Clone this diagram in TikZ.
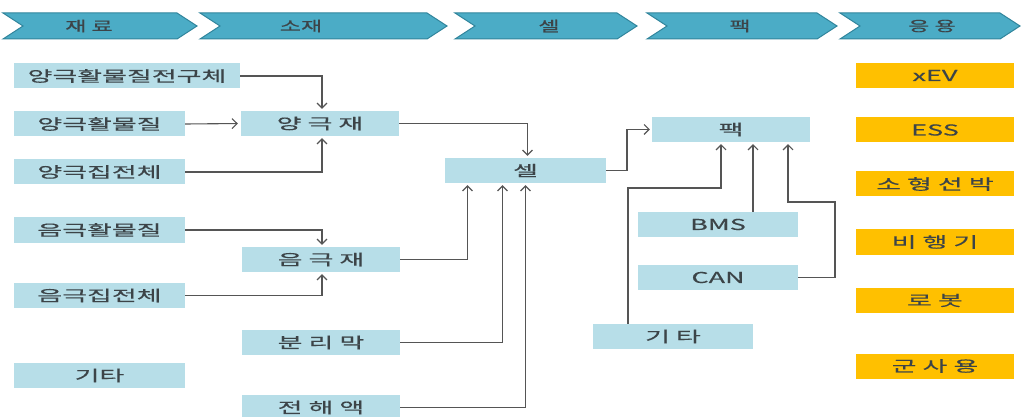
\documentclass[tikz,border=0pt]{standalone}
\usepackage{fontspec}
\usetikzlibrary{arrows.meta}
\newfontfamily\krfont{Noto Sans CJK KR}[FakeStretch=1.65,FakeBold=0.4]
\newfontfamily\krwide{Noto Sans CJK KR}[FakeStretch=1.8,FakeBold=0.4]
\definecolor{chevfill}{HTML}{4BACC6}
\definecolor{chevline}{HTML}{31859C}
\definecolor{boxblue}{HTML}{B7DEE8}
\definecolor{boxgold}{HTML}{FFC000}
\definecolor{txt}{HTML}{3C4448}
\definecolor{conncol}{HTML}{555555}
\tikzset{
  chevron/.style={fill=chevfill, draw=chevline, line width=1pt},
  headtext/.style={font=\krfont\fontsize{14}{16}\selectfont, text=txt, inner sep=0pt},
  bluebox/.style={fill=boxblue, draw=none, minimum height=25pt, inner sep=0pt,
    font=\krwide\fontsize{15}{17}\selectfont, text=txt},
  goldbox/.style={fill=boxgold, draw=none, minimum height=25pt, minimum width=158pt, inner sep=0pt,
    font=\krwide\fontsize{15}{17}\selectfont, text=txt},
  conn/.style={draw=conncol, line width=1.1pt, -{Straight Barb[length=5pt,width=10pt]}, shorten >=2pt},
}
\begin{document}
\begin{tikzpicture}[x=1pt,y=-1pt]
\useasboundingbox (0,0) rectangle (1021,417);
% header chevrons
\draw[chevron] (3,13) -- (177,13) -- (197,26) -- (177,39) -- (3,39) -- (23,26) -- cycle;
\draw[chevron] (200,13) -- (427,13) -- (447,26) -- (427,39) -- (200,39) -- (220,26) -- cycle;
\draw[chevron] (455,13) -- (617,13) -- (637,26) -- (617,39) -- (455,39) -- (475,26) -- cycle;
\draw[chevron] (647,13) -- (817,13) -- (837,26) -- (817,39) -- (647,39) -- (667,26) -- cycle;
\draw[chevron] (840,13) -- (1000,13) -- (1020,26) -- (1000,39) -- (840,39) -- (860,26) -- cycle;
\node[headtext] (h1) at (89,26) {재 료};
\node[headtext] (h2) at (301,26) {소재};
\node[headtext] (h3) at (549,26) {셀};
\node[headtext] (h4) at (740,26) {팩};
\node[headtext] (h5) at (932,26) {응 용};
% material column
\node[bluebox, minimum width=226pt] (p1) at (127,76) {양극활물질전구체};
\node[bluebox, minimum width=171pt] (p2) at (99.5,124) {양극활물질};
\node[bluebox, minimum width=171pt] (p3) at (99.5,172) {양극집전체};
\node[bluebox, minimum width=171pt] (n1) at (99.5,230) {음극활물질};
\node[bluebox, minimum width=171pt] (n2) at (99.5,295.5) {음극집전체};
\node[bluebox, minimum width=171pt] (e1) at (99.5,375.5) {기타};
% sub-material column
\node[bluebox, minimum width=158pt] (cath) at (320,123.5) {양 극 재};
\node[bluebox, minimum width=158pt] (anode) at (321,259.5) {음 극 재};
\node[bluebox, minimum width=158pt] (sep) at (321,342.5) {분 리 막};
\node[bluebox, minimum width=158pt] (elec) at (321,407.5) {전 해 액};
% cell
\node[bluebox, minimum width=161pt] (cell) at (525.5,170.5) {셀};
% pack column
\node[bluebox, minimum width=158pt] (pack) at (731,129.5) {팩};
\node[bluebox, minimum width=160pt] (bms) at (718,224.5) {BMS};
\node[bluebox, minimum width=160pt] (can) at (718,277.5) {CAN};
\node[bluebox, minimum width=160pt] (e2) at (673,336.5) {기 타};
% application column
\node[goldbox] (a1) at (935,75.5) {xEV};
\node[goldbox] (a2) at (935,130) {ESS};
\node[goldbox] (a3) at (935,184) {소 형 선 박};
\node[goldbox] (a4) at (935,242) {비 행 기};
\node[goldbox] (a5) at (935,300.5) {로 봇};
\node[goldbox] (a6) at (935,366) {군 사 용};
% helper coordinates
\coordinate (xc) at (627,0);
\coordinate (yk) at (700,188);
\coordinate (xb) at (753,0);
\coordinate (ck) at (835,202);
% connectors
\draw[conn] (p1.east) -| ([xshift=2]cath.north);
\draw[conn, shorten >=3pt] (p2.east) -- (cath.west);
\draw[conn] (p3.east) -| ([xshift=2]cath.south);
\draw[conn] (n1.east) -| ([xshift=1]anode.north);
\draw[conn] (n2.east) -| ([xshift=1]anode.south);
\draw[conn] (cath.east) -| ([xshift=2]cell.north);
\draw[conn] (anode.east) -| ([xshift=-58]cell.south);
\draw[conn] (sep.east) -| ([xshift=-23]cell.south);
\draw[conn] (elec.east) -| ([xshift=0]cell.south);
\draw[conn] (cell.east) -| (xc |- pack.west) -- (pack.west);
\draw[conn] ([xshift=-45]e2.north) |- (yk) -| ([xshift=-10]pack.south);
\draw[conn] (bms.north -| xb) -- (pack.south -| xb);
\draw[conn] (can.east) -| (ck) -| ([xshift=57]pack.south);
\end{tikzpicture}
\end{document}
